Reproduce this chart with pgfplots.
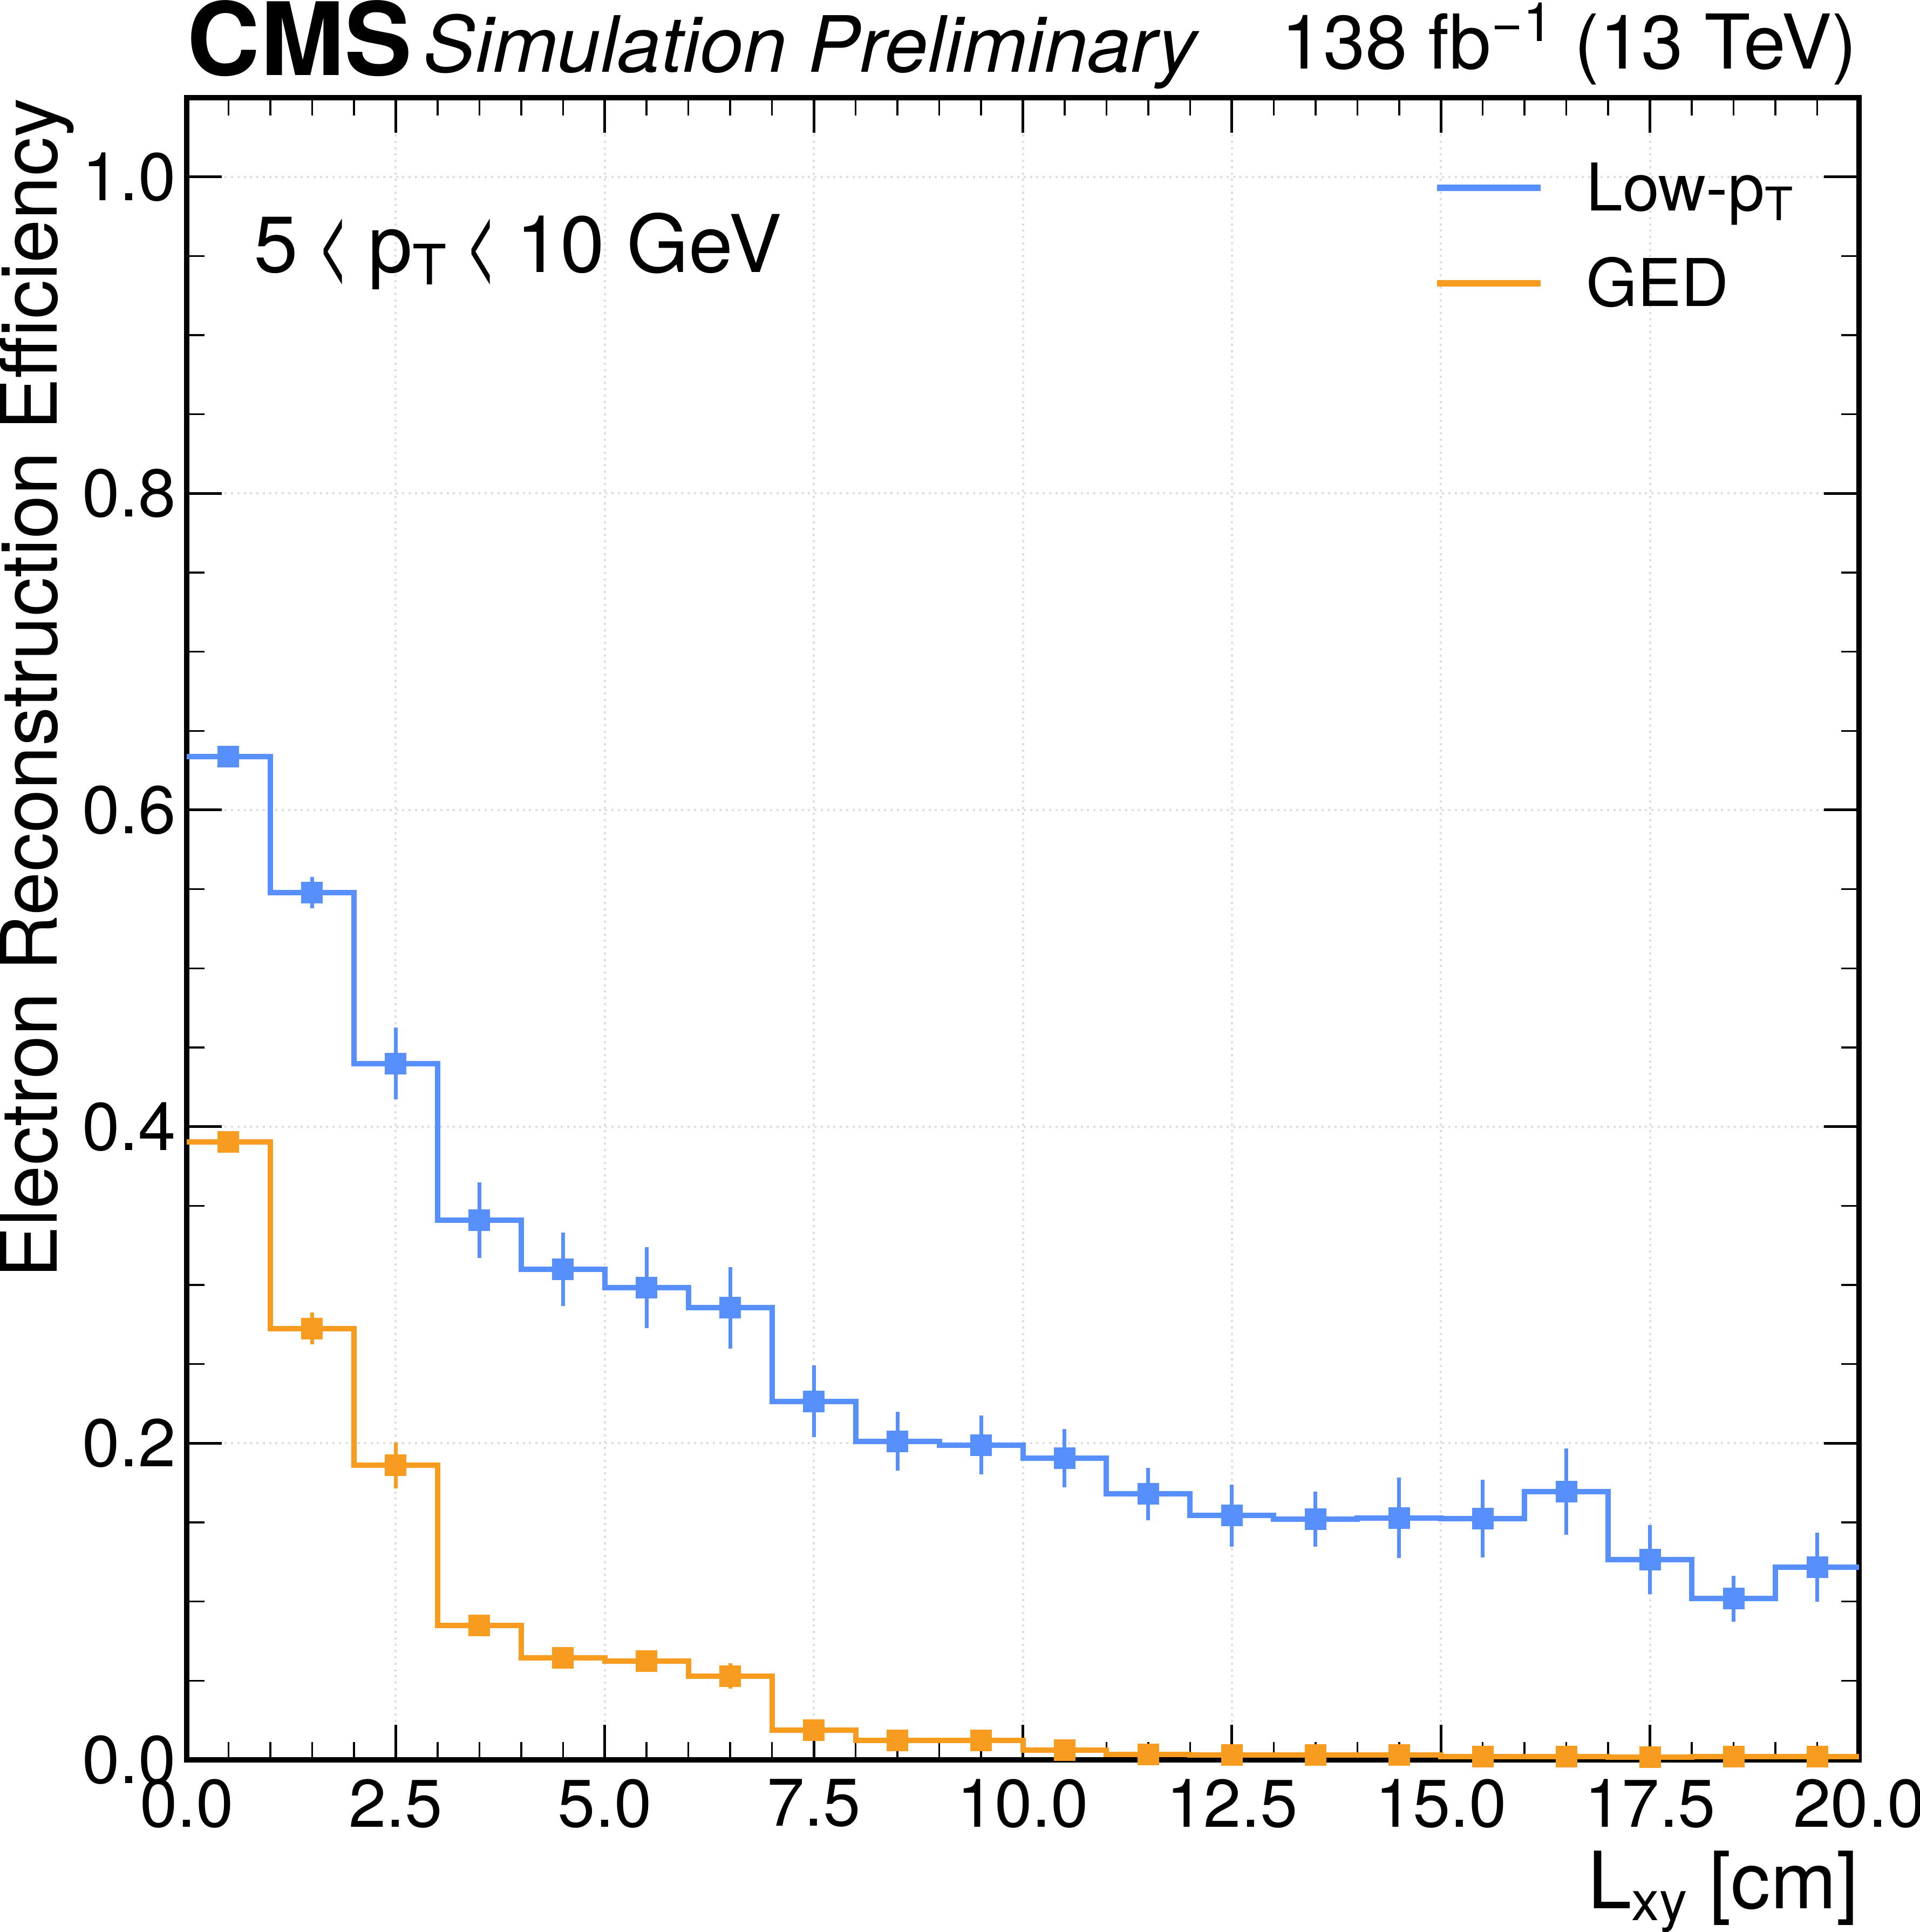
\documentclass[border=0pt]{standalone}
\usepackage{fontspec}
\setmainfont{TeX Gyre Heros}
\usepackage{pgfplots}
\pgfplotsset{compat=1.18}
\usepackage{pgfplotstable}
\definecolor{cmsblue}{HTML}{5790FC}
\definecolor{cmsorange}{HTML}{F89C20}
\definecolor{gridgray}{HTML}{DEDEDE}
\newcommand\sub[1]{\raisebox{-0.15em}{\scalebox{0.7}{#1}}}
\newcommand\sups[1]{\raisebox{0.37em}{\scalebox{0.72}{#1}}}
\newcommand\lt{\hspace{7pt}\raisebox{-2pt}{\scalebox{0.69}[1.3]{<}}\hspace{7pt}}

\pgfplotstableread{
x y
0 0.6337
1 0.5477
2 0.4399
3 0.3408
4 0.3098
5 0.2983
6 0.2856
7 0.2265
8 0.2013
9 0.1988
10 0.1905
11 0.1679
12 0.1543
13 0.1519
14 0.1528
15 0.1524
16 0.1694
17 0.1265
18 0.1018
19 0.1216
20 0.1216
}\lowstep

\pgfplotstableread{
x y e
0.5 0.6337 0.004
1.5 0.5477 0.0099
2.5 0.4399 0.0227
3.5 0.3408 0.0239
4.5 0.3098 0.0231
5.5 0.2983 0.0257
6.5 0.2856 0.0257
7.5 0.2265 0.0226
8.5 0.2013 0.0185
9.5 0.1988 0.0186
10.5 0.1905 0.0184
11.5 0.1679 0.0165
12.5 0.1543 0.0195
13.5 0.1519 0.0174
14.5 0.1528 0.0254
15.5 0.1524 0.0246
16.5 0.1694 0.0274
17.5 0.1265 0.0217
18.5 0.1018 0.0144
19.5 0.1216 0.0218
}\lowpt

\pgfplotstableread{
x y
0 0.3904
1 0.2725
2 0.1860
3 0.0848
4 0.0646
5 0.0623
6 0.0529
7 0.0187
8 0.0122
9 0.0122
10 0.0063
11 0.0035
12 0.0030
13 0.0030
14 0.0032
15 0.0022
16 0.0022
17 0.0018
18 0.0020
19 0.0022
20 0.0022
}\gedstep

\pgfplotstableread{
x y e
0.5 0.3904 0.003
1.5 0.2725 0.0100
2.5 0.1860 0.0144
3.5 0.0848 0.0060
4.5 0.0646 0.0040
5.5 0.0623 0.0050
6.5 0.0529 0.0080
7.5 0.0187 0.0040
8.5 0.0122 0.0030
9.5 0.0122 0.0030
10.5 0.0063 0.0020
11.5 0.0035 0.0015
12.5 0.0030 0.0015
13.5 0.0030 0.0015
14.5 0.0032 0.0015
15.5 0.0022 0.0010
16.5 0.0022 0.0010
17.5 0.0018 0.0010
18.5 0.0020 0.0010
19.5 0.0022 0.0010
}\gedpt

\begin{document}
\begin{tikzpicture}
\begin{axis}[
  scale only axis, width=619.8pt, height=616pt,
  xmin=0, xmax=20, ymin=0, ymax=1.05,
  xtick={0,2.5,5,7.5,10,12.5,15,17.5,20},
  ytick={0,0.2,0.4,0.6,0.8,1.0},
  minor x tick num=4, minor y tick num=3,
  tick align=inside,
  major tick length=13pt, minor tick length=6.6pt,
  major tick style={black, line width=1pt},
  minor tick style={black, line width=0.7pt},
  axis line style={black, line width=2pt},
  grid=major,
  major grid style={gridgray, line width=0.8pt, dash pattern=on 0.8pt off 1.55pt},
  /pgf/number format/assume math mode=true,
  tick label style={font=\fontsize{25}{30}\selectfont},
  xticklabel style={/pgf/number format/.cd, fixed, fixed zerofill, precision=1, /tikz/.cd, anchor=north, inner sep=0pt, yshift=-7pt},
  yticklabel style={/pgf/number format/.cd, fixed, fixed zerofill, precision=1, /tikz/.cd, anchor=east, inner sep=0pt, xshift=-3.8pt},
  xlabel={L\sub{xy} [cm]},
  ylabel={Electron Reconstruction Efficiency},
  label style={inner sep=0pt},
  xlabel style={font=\fontsize{29.3}{34}\selectfont, at={(axis description cs:1,-0.08929)}, anchor=base east},
  ylabel style={font=\fontsize{28.9}{34}\selectfont, at={(axis description cs:-0.07745,1)}, anchor=base east},
  legend image code/.code={\draw[#1] (0pt,8.4pt) -- (38.4pt,8.4pt);},
  legend style={at={(0.7457,0.9646)}, anchor=north west, draw=none, fill=none,
    inner sep=0pt, outer sep=0pt, row sep=10.4pt, column sep=15.8pt,
    font=\fontsize{24.4}{30}\selectfont, cells={anchor=base west},
    nodes={inner sep=0pt, text height=20pt, text depth=5pt}},
]
\addplot[const plot, cmsblue, line width=2pt, forget plot] table[x=x, y=y]{\lowstep};
\addplot[cmsblue, only marks, mark=square*, mark size=3.9pt, mark options={line width=0pt}, forget plot,
  error bars/.cd, y dir=both, y explicit, error mark=none, error bar style={line width=1.4pt, cmsblue}]
  table[x=x, y=y, y error=e]{\lowpt};
\addplot[const plot, cmsorange, line width=2pt, forget plot] table[x=x, y=y]{\gedstep};
\addplot[cmsorange, only marks, mark=square*, mark size=3.9pt, mark options={line width=0pt}, forget plot,
  error bars/.cd, y dir=both, y explicit, error mark=none, error bar style={line width=1.4pt, cmsorange}]
  table[x=x, y=y, y error=e]{\gedpt};
\addlegendimage{cmsblue, line width=2.3pt}
\addlegendentry{Low-p\sub{T}}
\addlegendimage{cmsorange, line width=2.3pt}
\addlegendentry{GED}
\end{axis}
\node[anchor=base west, inner sep=0pt, font=\fontsize{37.5}{42}\selectfont\bfseries] at (0pt,624.2pt) {CMS};
\node[anchor=base west, inner sep=0pt, font=\fontsize{28.8}{34}\selectfont\itshape] at (87.6pt,625.4pt) {Simulation Preliminary};
\node[anchor=base east, inner sep=0pt, font=\fontsize{28}{32}\selectfont] at (619.2pt,626.6pt) {138 fb\sups{−1} (13 TeV)};
\node[anchor=base west, inner sep=0pt, font=\fontsize{29.5}{34}\selectfont] at (24.8pt,551.2pt) {5\lt p\sub{T}\lt 10 GeV};
\pgfresetboundingbox
\path[use as bounding box] (-69.2pt,-63.8pt) rectangle (642.4pt,652.2pt);
\end{tikzpicture}
\end{document}
